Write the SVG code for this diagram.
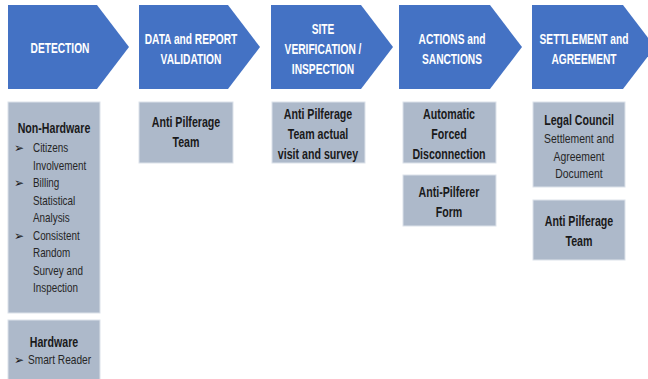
<svg xmlns="http://www.w3.org/2000/svg" width="648" height="379" viewBox="0 0 648 379">
  <style>
    .chev { fill: #4472C4; }
    .box { fill: #ADB9CA; stroke: #DCE2EA; stroke-width: 1; }
    .h { font-family: "Liberation Sans", Arial, sans-serif; font-weight: bold; font-size: 15px; fill: #FFFFFF; text-anchor: middle; }
    .b { font-family: "Liberation Sans", Arial, sans-serif; font-weight: bold; font-size: 14px; fill: #1A1A1A; text-anchor: middle; }
    .r { font-family: "Liberation Sans", Arial, sans-serif; font-size: 13px; fill: #262626; }
    .rc { text-anchor: middle; }
    .bul { font-family: "DejaVu Sans", sans-serif; font-size: 12px; fill: #1A1A1A; }
  </style>
  <rect width="648" height="379" fill="#FFFFFF"/>

  <!-- process stages (chevrons) -->
  <g id="stage-detection">
    <polygon class="chev" points="8,5 97,5 129,47 97,89 8,89"/>
    <text class="h" transform="translate(60,53) scale(0.68,1)">DETECTION</text>
  </g>
  <g id="stage-validation">
    <polygon class="chev" points="139,5 228,5 260,47 228,89 139,89"/>
    <text class="h" transform="translate(191,44) scale(0.68,1)">DATA and REPORT</text>
    <text class="h" transform="translate(191,64) scale(0.68,1)">VALIDATION</text>
  </g>
  <g id="stage-verification">
    <polygon class="chev" points="271,5 361,5 393,47 361,89 271,89"/>
    <text class="h" transform="translate(323,34) scale(0.68,1)">SITE</text>
    <text class="h" transform="translate(323,54) scale(0.68,1)">VERIFICATION /</text>
    <text class="h" transform="translate(323,74) scale(0.68,1)">INSPECTION</text>
  </g>
  <g id="stage-actions">
    <polygon class="chev" points="399,5 490,5 522,47 490,89 399,89"/>
    <text class="h" transform="translate(452,44) scale(0.68,1)">ACTIONS and</text>
    <text class="h" transform="translate(452,64) scale(0.68,1)">SANCTIONS</text>
  </g>
  <g id="stage-settlement">
    <polygon class="chev" points="532,5 623,5 655,47 623,89 532,89"/>
    <text class="h" transform="translate(584,44) scale(0.68,1)">SETTLEMENT and</text>
    <text class="h" transform="translate(584,64) scale(0.68,1)">AGREEMENT</text>
  </g>

  <!-- detail boxes -->
  <g id="non-hardware">
    <rect class="box" x="8" y="102" width="92" height="211"/>
    <text class="b" transform="translate(54,133) scale(0.76,1)">Non-Hardware</text>
    <text class="bul" x="14" y="152">➢</text>
    <text class="r" transform="translate(33,152) scale(0.76,1)">Citizens</text>
    <text class="r" transform="translate(33,169.5) scale(0.76,1)">Involvement</text>
    <text class="bul" x="14" y="187">➢</text>
    <text class="r" transform="translate(33,187) scale(0.76,1)">Billing</text>
    <text class="r" transform="translate(33,204.5) scale(0.76,1)">Statistical</text>
    <text class="r" transform="translate(33,222) scale(0.76,1)">Analysis</text>
    <text class="bul" x="14" y="239.5">➢</text>
    <text class="r" transform="translate(33,239.5) scale(0.76,1)">Consistent</text>
    <text class="r" transform="translate(33,257) scale(0.76,1)">Random</text>
    <text class="r" transform="translate(33,274.5) scale(0.76,1)">Survey and</text>
    <text class="r" transform="translate(33,292) scale(0.76,1)">Inspection</text>
  </g>
  <g id="hardware">
    <rect class="box" x="8" y="320" width="92" height="65"/>
    <text class="b" transform="translate(54,346.5) scale(0.76,1)">Hardware</text>
    <text class="bul" x="14" y="364">➢</text>
    <text class="r" transform="translate(28,364) scale(0.78,1)">Smart Reader</text>
  </g>
  <g id="validation-team">
    <rect class="box" x="139" y="102" width="94" height="61"/>
    <text class="b" transform="translate(186,127) scale(0.76,1)">Anti Pilferage</text>
    <text class="b" transform="translate(186,147) scale(0.76,1)">Team</text>
  </g>
  <g id="site-visit">
    <rect class="box" x="272" y="102" width="93" height="61"/>
    <text class="b" transform="translate(318,119) scale(0.76,1)">Anti Pilferage</text>
    <text class="b" transform="translate(318,139) scale(0.76,1)">Team actual</text>
    <text class="b" transform="translate(318,159) scale(0.76,1)">visit and survey</text>
  </g>
  <g id="forced-disconnection">
    <rect class="box" x="403" y="102" width="93" height="61"/>
    <text class="b" transform="translate(449,118.5) scale(0.76,1)">Automatic</text>
    <text class="b" transform="translate(449,138.5) scale(0.76,1)">Forced</text>
    <text class="b" transform="translate(449,158.5) scale(0.76,1)">Disconnection</text>
  </g>
  <g id="pilferer-form">
    <rect class="box" x="403" y="175" width="93" height="51"/>
    <text class="b" transform="translate(449,196.5) scale(0.76,1)">Anti-Pilferer</text>
    <text class="b" transform="translate(449,216.5) scale(0.76,1)">Form</text>
  </g>
  <g id="legal-council">
    <rect class="box" x="533" y="102" width="92" height="85"/>
    <text class="b" transform="translate(579,124.5) scale(0.76,1)">Legal Council</text>
    <text class="r rc" transform="translate(579,143) scale(0.8,1)">Settlement and</text>
    <text class="r rc" transform="translate(579,161) scale(0.8,1)">Agreement</text>
    <text class="r rc" transform="translate(579,178) scale(0.8,1)">Document</text>
  </g>
  <g id="settlement-team">
    <rect class="box" x="533" y="200" width="92" height="60"/>
    <text class="b" transform="translate(579,225.5) scale(0.76,1)">Anti Pilferage</text>
    <text class="b" transform="translate(579,245.5) scale(0.76,1)">Team</text>
  </g>

  <g id="connectors"></g>
</svg>
